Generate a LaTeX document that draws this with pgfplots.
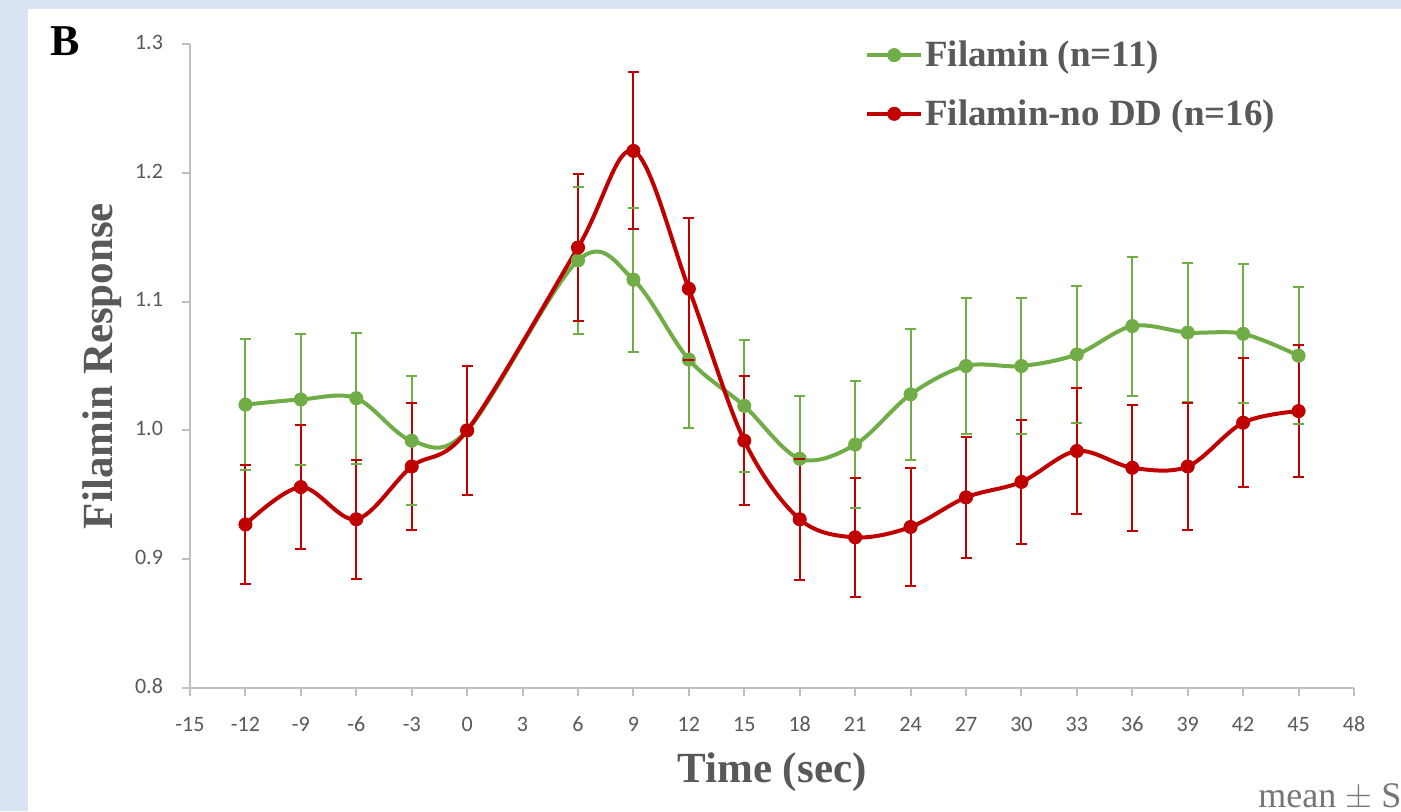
\documentclass[border=0pt]{standalone}
\usepackage{fontspec}
\setmainfont{Liberation Serif}
\newfontfamily\calibri{Carlito}
\usepackage{pgfplots}
\usepackage{pgfplotstable}
\pgfplotsset{compat=1.18}
\definecolor{bgblue}{RGB}{218,227,243}
\definecolor{cGreen}{RGB}{112,173,71}
\definecolor{cRed}{RGB}{192,0,0}
\definecolor{txtgray}{RGB}{89,89,89}
\definecolor{axgray}{RGB}{191,191,191}

% time, mean, SE
\pgfplotstableread{
t    y     e
-12  1.020 0.051
-9   1.024 0.051
-6   1.025 0.051
-3   0.992 0.050
0    1.000 0.000
6    1.132 0.057
9    1.117 0.056
12   1.055 0.053
15   1.019 0.051
18   0.978 0.049
21   0.989 0.049
24   1.028 0.051
27   1.050 0.053
30   1.050 0.053
33   1.059 0.053
36   1.081 0.054
39   1.076 0.054
42   1.075 0.054
45   1.058 0.053
}\filaminTab
\pgfplotstableread{
t    y     e
-12  0.927 0.046
-9   0.956 0.048
-6   0.931 0.046
-3   0.972 0.049
0    1.000 0.050
6    1.142 0.057
9    1.217 0.061
12   1.110 0.055
15   0.992 0.050
18   0.931 0.047
21   0.917 0.046
24   0.925 0.046
27   0.948 0.047
30   0.960 0.048
33   0.984 0.049
36   0.971 0.049
39   0.972 0.049
42   1.006 0.050
45   1.015 0.051
}\noddTab

\pgfplotsset{
  ebar/.style={#1, draw=#1, forget plot, only marks, mark=none,
    error bars/.cd, y dir=both, y explicit, error mark=none,
    error bar style={draw=#1, line width=1pt}},
  ecap/.style={#1, draw=#1, forget plot, only marks, mark=-, mark size=2.75pt,
    mark options={solid, draw=#1, line width=1pt}},
}

\begin{document}
\begin{tikzpicture}
\fill[bgblue] (0,0) rectangle (700.5pt,405.5pt);
\fill[white] (14pt,0) rectangle (700.5pt,401pt);
\node[anchor=base west,inner sep=0pt,font=\fontsize{22}{24}\selectfont\bfseries] at (25pt,377.5pt) {B};
\begin{axis}[at={(95pt,61.5pt)}, anchor=south west, scale only axis,
  width=582pt, height=322pt,
  xmin=-15, xmax=48, ymin=0.8, ymax=1.3,
  axis x line*=bottom, axis y line*=left,
  axis line style={axgray, line width=1pt},
  xtick={-15,-12,-9,-6,-3,0,3,6,9,12,15,18,21,24,27,30,33,36,39,42,45,48},
  xticklabels={-15,-12,-9,-6,-3,0,3,6,9,12,15,18,21,24,27,30,33,36,39,42,45,48},
  ytick={0.8,0.9,1.0,1.1,1.2,1.3},
  yticklabels={0.8,0.9,1.0,1.1,1.2,1.3},
  tick style={axgray, line width=1pt}, tick align=outside, major tick length=4pt,
  tick label style={font=\calibri\fontsize{11}{13}\selectfont, text=txtgray},
  typeset ticklabels with strut,
  xticklabel style={yshift=-5pt},
  yticklabel style={xshift=-6pt},
  xlabel={Time (sec)}, ylabel={Filamin Response},
  label style={font=\fontsize{21.5}{24}\selectfont\bfseries, text=txtgray},
  x label style={at={(axis description cs:0.5,-0.146)}, anchor=base},
  y label style={at={(axis description cs:-0.067,0.5)}, anchor=base},
  legend style={at={(0.5746,1.018)}, anchor=north west, draw=none, fill=none,
    font=\fontsize{18.5}{20}\selectfont\bfseries, text=txtgray,
    row sep=11pt, nodes={inner xsep=1pt}},
  legend cell align=left,
  legend image code/.code={\draw[mark repeat=2,mark phase=2] plot coordinates {(0pt,0pt) (13.5pt,0pt) (27pt,0pt)};},
  clip=false]
  % Filamin
  \addplot[ebar=cGreen] table[x=t, y=y, y error=e] {\filaminTab};
  \addplot[ecap=cGreen] table[x=t, y expr=\thisrow{y}+\thisrow{e}] {\filaminTab};
  \addplot[ecap=cGreen] table[x=t, y expr=\thisrow{y}-\thisrow{e}] {\filaminTab};
  \addplot[cGreen, line width=2pt, smooth, tension=0.55, mark=*, mark size=3.3pt,
    mark options={solid, fill=cGreen, draw=cGreen, line width=0.4pt}]
    table[x=t, y=y] {\filaminTab};
  \addlegendentry{Filamin (n=11)}
  % Filamin-no DD
  \addplot[ebar=cRed] table[x=t, y=y, y error=e] {\noddTab};
  \addplot[ecap=cRed] table[x=t, y expr=\thisrow{y}+\thisrow{e}] {\noddTab};
  \addplot[ecap=cRed] table[x=t, y expr=\thisrow{y}-\thisrow{e}] {\noddTab};
  \addplot[cRed, line width=2pt, smooth, tension=0.55, mark=*, mark size=3.3pt,
    mark options={solid, fill=cRed, draw=cRed, line width=0.4pt}]
    table[x=t, y=y] {\noddTab};
  \addlegendentry{Filamin-no DD (n=16)}
\end{axis}
\node[anchor=base west, inner sep=0pt, font=\fontsize{18}{20}\selectfont, text={rgb,255:red,118;green,118;blue,118}] at (629pt,2pt) {mean $\pm$ SE};
\pgfresetboundingbox
\useasboundingbox (0,0) rectangle (700.5pt,405.5pt);
\end{tikzpicture}
\end{document}
